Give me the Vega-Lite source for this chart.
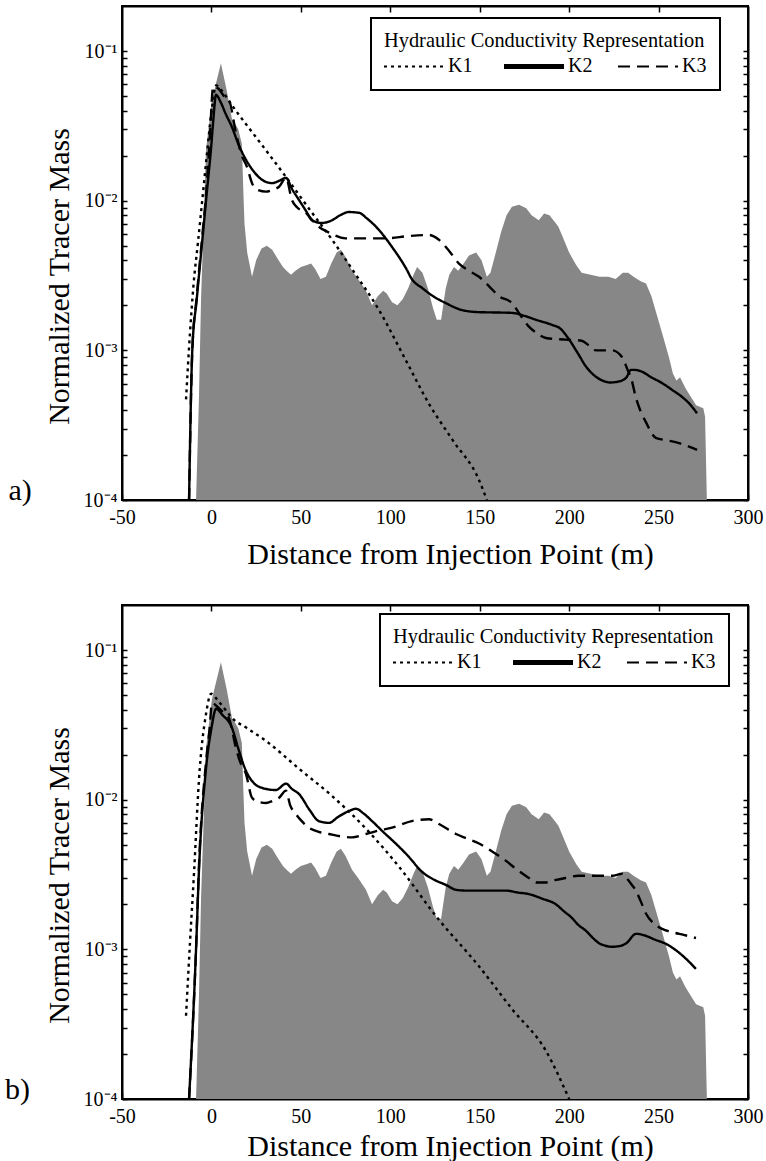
{
  "$schema": "https://vega.github.io/schema/vega-lite/v6.json",
  "background": "white",
  "padding": {"left": 4, "top": 4, "right": 2, "bottom": 0},
  "spacing": 33,
  "config": {
    "font": "Liberation Serif",
    "view": {"stroke": "black", "strokeWidth": 2},
    "axis": {
      "grid": false,
      "domainColor": "black",
      "domainWidth": 2,
      "tickColor": "black",
      "tickWidth": 1.5,
      "tickSize": -6,
      "labelFont": "Liberation Serif",
      "labelFontSize": 20,
      "labelColor": "black",
      "labelOverlap": false,
      "labelFlush": false,
      "titleFont": "Liberation Serif",
      "titleFontSize": 30,
      "titleFontWeight": "normal",
      "titleColor": "black"
    },
    "legend": {
      "titleFont": "Liberation Serif",
      "titleFontSize": 20.4,
      "titleFontWeight": "normal",
      "titleColor": "black",
      "titleLimit": 500,
      "labelFont": "Liberation Serif",
      "labelFontSize": 20,
      "labelColor": "black",
      "labelLimit": 100,
      "symbolType": "stroke",
      "symbolSize": 3600,
      "symbolStrokeColor": "black",
      "symbolStrokeWidth": 2
    }
  },
  "datasets": {
    "obs": [
      {"x": -8.6, "v": 0.0001}, {"x": -7, "v": 0.00047}, {"x": -5.8, "v": 0.0022}, {"x": -3, "v": 0.022}, {"x": 0.3, "v": 0.047}, {"x": 5.3, "v": 0.083}, {"x": 8.5, "v": 0.055}, {"x": 11.5, "v": 0.035}, {"x": 13, "v": 0.033}, {"x": 15, "v": 0.03}, {"x": 17, "v": 0.024}, {"x": 17.8, "v": 0.012}, {"x": 18.5, "v": 0.007}, {"x": 20, "v": 0.0045}, {"x": 22.7, "v": 0.0031}, {"x": 25, "v": 0.004}, {"x": 28, "v": 0.0048}, {"x": 31, "v": 0.005}, {"x": 34, "v": 0.0047}, {"x": 37, "v": 0.0041}, {"x": 40, "v": 0.0036}, {"x": 42, "v": 0.0034}, {"x": 44.5, "v": 0.0032}, {"x": 47, "v": 0.0034}, {"x": 50, "v": 0.0036}, {"x": 53, "v": 0.0037}, {"x": 55.7, "v": 0.0038}, {"x": 58, "v": 0.0035}, {"x": 61, "v": 0.003}, {"x": 64, "v": 0.0031}, {"x": 67, "v": 0.0038}, {"x": 70, "v": 0.0045}, {"x": 72.4, "v": 0.0047}, {"x": 75, "v": 0.0042}, {"x": 78.6, "v": 0.0034}, {"x": 82, "v": 0.003}, {"x": 86.4, "v": 0.0025}, {"x": 89.8, "v": 0.002}, {"x": 93, "v": 0.0023}, {"x": 96, "v": 0.0025}, {"x": 98, "v": 0.0024}, {"x": 101, "v": 0.0021}, {"x": 104, "v": 0.002}, {"x": 107, "v": 0.0022}, {"x": 110, "v": 0.0026}, {"x": 113, "v": 0.0032}, {"x": 115, "v": 0.0036}, {"x": 118, "v": 0.0033}, {"x": 121, "v": 0.0026}, {"x": 124, "v": 0.0019}, {"x": 126, "v": 0.0016}, {"x": 128.4, "v": 0.0016}, {"x": 131, "v": 0.0026}, {"x": 133, "v": 0.0032}, {"x": 135.6, "v": 0.0036}, {"x": 138, "v": 0.0034}, {"x": 141, "v": 0.0038}, {"x": 144, "v": 0.0043}, {"x": 148, "v": 0.0045}, {"x": 151, "v": 0.004}, {"x": 154, "v": 0.0031}, {"x": 156, "v": 0.0033}, {"x": 159, "v": 0.0045}, {"x": 162, "v": 0.0062}, {"x": 165, "v": 0.008}, {"x": 168, "v": 0.0091}, {"x": 172, "v": 0.0094}, {"x": 176, "v": 0.0089}, {"x": 179, "v": 0.008}, {"x": 183, "v": 0.0074}, {"x": 186, "v": 0.0082}, {"x": 189, "v": 0.008}, {"x": 192, "v": 0.0072}, {"x": 194, "v": 0.0067}, {"x": 197, "v": 0.0055}, {"x": 200, "v": 0.0045}, {"x": 204, "v": 0.0037}, {"x": 207, "v": 0.0033}, {"x": 212, "v": 0.0032}, {"x": 217, "v": 0.0031}, {"x": 222, "v": 0.0031}, {"x": 226, "v": 0.003}, {"x": 230, "v": 0.0033}, {"x": 233, "v": 0.0033}, {"x": 236, "v": 0.0031}, {"x": 240, "v": 0.0029}, {"x": 243, "v": 0.0028}, {"x": 246, "v": 0.0023}, {"x": 248.6, "v": 0.0018}, {"x": 252, "v": 0.0013}, {"x": 255.8, "v": 0.0009}, {"x": 258, "v": 0.0007}, {"x": 260, "v": 0.00063}, {"x": 262, "v": 0.00066}, {"x": 265, "v": 0.00056}, {"x": 268, "v": 0.00049}, {"x": 271, "v": 0.00043}, {"x": 273, "v": 0.00042}, {"x": 275, "v": 0.00041}, {"x": 276, "v": 0.00036}, {"x": 277, "v": 0.0001}
    ],
    "linesA": [
      {"s": "K1", "x": -14.2, "v": 0.00047}, {"s": "K1", "x": -12, "v": 0.0013}, {"s": "K1", "x": -10, "v": 0.00275}, {"s": "K1", "x": -7.5, "v": 0.0053}, {"s": "K1", "x": -5, "v": 0.0104}, {"s": "K1", "x": -2.5, "v": 0.0206}, {"s": "K1", "x": 0, "v": 0.039}, {"s": "K1", "x": 2.6, "v": 0.059}, {"s": "K1", "x": 6, "v": 0.054}, {"s": "K1", "x": 10, "v": 0.046}, {"s": "K1", "x": 15, "v": 0.038}, {"s": "K1", "x": 20, "v": 0.0317}, {"s": "K1", "x": 30, "v": 0.0221}, {"s": "K1", "x": 41.7, "v": 0.0144}, {"s": "K1", "x": 55, "v": 0.0087}, {"s": "K1", "x": 67.4, "v": 0.0055}, {"s": "K1", "x": 80, "v": 0.0033}, {"s": "K1", "x": 93.7, "v": 0.00186}, {"s": "K1", "x": 108, "v": 0.00089}, {"s": "K1", "x": 121.6, "v": 0.00044}, {"s": "K1", "x": 135, "v": 0.00025}, {"s": "K1", "x": 149.6, "v": 0.000136}, {"s": "K1", "x": 154, "v": 0.0001},
      {"s": "K2", "x": -12.5, "v": 0.0001}, {"s": "K2", "x": -10.7, "v": 0.001}, {"s": "K2", "x": -8.2, "v": 0.0022}, {"s": "K2", "x": -5, "v": 0.0056}, {"s": "K2", "x": -3, "v": 0.0101}, {"s": "K2", "x": 0, "v": 0.024}, {"s": "K2", "x": 1, "v": 0.034}, {"s": "K2", "x": 2.6, "v": 0.051}, {"s": "K2", "x": 5, "v": 0.046}, {"s": "K2", "x": 8, "v": 0.038}, {"s": "K2", "x": 11.5, "v": 0.031}, {"s": "K2", "x": 15, "v": 0.024}, {"s": "K2", "x": 19.3, "v": 0.0188}, {"s": "K2", "x": 24, "v": 0.0155}, {"s": "K2", "x": 28.3, "v": 0.0138}, {"s": "K2", "x": 33.9, "v": 0.0131}, {"s": "K2", "x": 38, "v": 0.0136}, {"s": "K2", "x": 41.7, "v": 0.0142}, {"s": "K2", "x": 45, "v": 0.012}, {"s": "K2", "x": 49, "v": 0.0101}, {"s": "K2", "x": 53, "v": 0.0085}, {"s": "K2", "x": 56.2, "v": 0.0074}, {"s": "K2", "x": 61.8, "v": 0.0071}, {"s": "K2", "x": 67.4, "v": 0.0074}, {"s": "K2", "x": 72, "v": 0.008}, {"s": "K2", "x": 76.9, "v": 0.0084}, {"s": "K2", "x": 82.5, "v": 0.0083}, {"s": "K2", "x": 87, "v": 0.0076}, {"s": "K2", "x": 92, "v": 0.0067}, {"s": "K2", "x": 97, "v": 0.0057}, {"s": "K2", "x": 101, "v": 0.0049}, {"s": "K2", "x": 104.9, "v": 0.0042}, {"s": "K2", "x": 109, "v": 0.0035}, {"s": "K2", "x": 112, "v": 0.003}, {"s": "K2", "x": 118, "v": 0.0026}, {"s": "K2", "x": 124, "v": 0.0023}, {"s": "K2", "x": 131, "v": 0.00207}, {"s": "K2", "x": 140, "v": 0.00186}, {"s": "K2", "x": 149.6, "v": 0.0018}, {"s": "K2", "x": 160, "v": 0.00179}, {"s": "K2", "x": 168, "v": 0.00178}, {"s": "K2", "x": 175, "v": 0.0017}, {"s": "K2", "x": 181.5, "v": 0.0016}, {"s": "K2", "x": 190.4, "v": 0.00148}, {"s": "K2", "x": 195, "v": 0.0014}, {"s": "K2", "x": 200, "v": 0.00118}, {"s": "K2", "x": 205, "v": 0.00095}, {"s": "K2", "x": 209.4, "v": 0.00078}, {"s": "K2", "x": 214, "v": 0.00068}, {"s": "K2", "x": 218.4, "v": 0.00063}, {"s": "K2", "x": 223, "v": 0.00061}, {"s": "K2", "x": 227.9, "v": 0.00062}, {"s": "K2", "x": 232, "v": 0.00066}, {"s": "K2", "x": 234.6, "v": 0.00074}, {"s": "K2", "x": 237, "v": 0.00074}, {"s": "K2", "x": 240.7, "v": 0.00072}, {"s": "K2", "x": 246, "v": 0.00066}, {"s": "K2", "x": 251.9, "v": 0.000605}, {"s": "K2", "x": 258, "v": 0.00054}, {"s": "K2", "x": 263, "v": 0.00049}, {"s": "K2", "x": 268, "v": 0.00043}, {"s": "K2", "x": 271.5, "v": 0.00038},
      {"s": "K3", "x": -12.5, "v": 0.0001}, {"s": "K3", "x": -10.7, "v": 0.001}, {"s": "K3", "x": -8.2, "v": 0.0023}, {"s": "K3", "x": -5, "v": 0.006}, {"s": "K3", "x": -3, "v": 0.011}, {"s": "K3", "x": -1, "v": 0.025}, {"s": "K3", "x": 1, "v": 0.058}, {"s": "K3", "x": 4, "v": 0.056}, {"s": "K3", "x": 7, "v": 0.05}, {"s": "K3", "x": 9.8, "v": 0.047}, {"s": "K3", "x": 13.7, "v": 0.0284}, {"s": "K3", "x": 17, "v": 0.02}, {"s": "K3", "x": 19.9, "v": 0.0168}, {"s": "K3", "x": 22.7, "v": 0.0131}, {"s": "K3", "x": 26, "v": 0.0118}, {"s": "K3", "x": 30.5, "v": 0.0115}, {"s": "K3", "x": 34, "v": 0.0118}, {"s": "K3", "x": 37.8, "v": 0.0124}, {"s": "K3", "x": 41.7, "v": 0.0142}, {"s": "K3", "x": 45, "v": 0.0101}, {"s": "K3", "x": 48, "v": 0.009}, {"s": "K3", "x": 52.9, "v": 0.0083}, {"s": "K3", "x": 56, "v": 0.0075}, {"s": "K3", "x": 60, "v": 0.0067}, {"s": "K3", "x": 66, "v": 0.0061}, {"s": "K3", "x": 75, "v": 0.0056}, {"s": "K3", "x": 86.4, "v": 0.0056}, {"s": "K3", "x": 97.6, "v": 0.0056}, {"s": "K3", "x": 110, "v": 0.0058}, {"s": "K3", "x": 121.6, "v": 0.0059}, {"s": "K3", "x": 127, "v": 0.0055}, {"s": "K3", "x": 133, "v": 0.0046}, {"s": "K3", "x": 138.4, "v": 0.0038}, {"s": "K3", "x": 144, "v": 0.0034}, {"s": "K3", "x": 149.6, "v": 0.0031}, {"s": "K3", "x": 155, "v": 0.0027}, {"s": "K3", "x": 160.8, "v": 0.0023}, {"s": "K3", "x": 168, "v": 0.00207}, {"s": "K3", "x": 173, "v": 0.0017}, {"s": "K3", "x": 177.5, "v": 0.00144}, {"s": "K3", "x": 182, "v": 0.0013}, {"s": "K3", "x": 187, "v": 0.00121}, {"s": "K3", "x": 198, "v": 0.00118}, {"s": "K3", "x": 207, "v": 0.00116}, {"s": "K3", "x": 211, "v": 0.00108}, {"s": "K3", "x": 215, "v": 0.001}, {"s": "K3", "x": 224, "v": 0.001}, {"s": "K3", "x": 229.6, "v": 0.0009}, {"s": "K3", "x": 232.5, "v": 0.00075}, {"s": "K3", "x": 235, "v": 0.00063}, {"s": "K3", "x": 237, "v": 0.0005}, {"s": "K3", "x": 239, "v": 0.00042}, {"s": "K3", "x": 243, "v": 0.00033}, {"s": "K3", "x": 248.5, "v": 0.00026}, {"s": "K3", "x": 255, "v": 0.00025}, {"s": "K3", "x": 261.4, "v": 0.00024}, {"s": "K3", "x": 266, "v": 0.00023}, {"s": "K3", "x": 271.5, "v": 0.000216}
    ],
    "linesB": [
      {"s": "K1", "x": -14.2, "v": 0.00036}, {"s": "K1", "x": -12, "v": 0.0011}, {"s": "K1", "x": -9.7, "v": 0.0033}, {"s": "K1", "x": -7, "v": 0.0134}, {"s": "K1", "x": -3, "v": 0.0375}, {"s": "K1", "x": -0.2, "v": 0.051}, {"s": "K1", "x": 3, "v": 0.047}, {"s": "K1", "x": 7, "v": 0.041}, {"s": "K1", "x": 11.5, "v": 0.0352}, {"s": "K1", "x": 20, "v": 0.03}, {"s": "K1", "x": 30.5, "v": 0.0247}, {"s": "K1", "x": 49, "v": 0.0161}, {"s": "K1", "x": 67.4, "v": 0.0106}, {"s": "K1", "x": 86.4, "v": 0.0064}, {"s": "K1", "x": 104.9, "v": 0.00356}, {"s": "K1", "x": 125.5, "v": 0.00167}, {"s": "K1", "x": 149.6, "v": 0.00077}, {"s": "K1", "x": 168, "v": 0.0004}, {"s": "K1", "x": 187, "v": 0.00021}, {"s": "K1", "x": 200, "v": 0.0001},
      {"s": "K2", "x": -12.5, "v": 0.0001}, {"s": "K2", "x": -8.6, "v": 0.001}, {"s": "K2", "x": -7, "v": 0.0033}, {"s": "K2", "x": -3, "v": 0.0163}, {"s": "K2", "x": 0, "v": 0.03}, {"s": "K2", "x": 2.6, "v": 0.0405}, {"s": "K2", "x": 6, "v": 0.037}, {"s": "K2", "x": 11.5, "v": 0.0302}, {"s": "K2", "x": 15, "v": 0.022}, {"s": "K2", "x": 19.3, "v": 0.0156}, {"s": "K2", "x": 24, "v": 0.0128}, {"s": "K2", "x": 28.3, "v": 0.012}, {"s": "K2", "x": 36, "v": 0.0116}, {"s": "K2", "x": 41.7, "v": 0.0128}, {"s": "K2", "x": 45, "v": 0.0118}, {"s": "K2", "x": 49, "v": 0.0109}, {"s": "K2", "x": 55, "v": 0.0085}, {"s": "K2", "x": 60, "v": 0.0072}, {"s": "K2", "x": 65.7, "v": 0.007}, {"s": "K2", "x": 71, "v": 0.0077}, {"s": "K2", "x": 76.9, "v": 0.0084}, {"s": "K2", "x": 80.8, "v": 0.0087}, {"s": "K2", "x": 85, "v": 0.0081}, {"s": "K2", "x": 89.8, "v": 0.0072}, {"s": "K2", "x": 96, "v": 0.0061}, {"s": "K2", "x": 103, "v": 0.0051}, {"s": "K2", "x": 110, "v": 0.0042}, {"s": "K2", "x": 117.7, "v": 0.0033}, {"s": "K2", "x": 125, "v": 0.0029}, {"s": "K2", "x": 131, "v": 0.0027}, {"s": "K2", "x": 136.7, "v": 0.0025}, {"s": "K2", "x": 142.3, "v": 0.00247}, {"s": "K2", "x": 150, "v": 0.00247}, {"s": "K2", "x": 157, "v": 0.00247}, {"s": "K2", "x": 164.7, "v": 0.00247}, {"s": "K2", "x": 171, "v": 0.0024}, {"s": "K2", "x": 177.5, "v": 0.00234}, {"s": "K2", "x": 185, "v": 0.00218}, {"s": "K2", "x": 192.6, "v": 0.002}, {"s": "K2", "x": 197, "v": 0.0018}, {"s": "K2", "x": 201.6, "v": 0.00162}, {"s": "K2", "x": 205, "v": 0.00146}, {"s": "K2", "x": 209.4, "v": 0.00133}, {"s": "K2", "x": 213, "v": 0.0012}, {"s": "K2", "x": 216.7, "v": 0.0011}, {"s": "K2", "x": 220, "v": 0.00106}, {"s": "K2", "x": 224, "v": 0.00104}, {"s": "K2", "x": 227.9, "v": 0.00105}, {"s": "K2", "x": 232, "v": 0.0011}, {"s": "K2", "x": 237.4, "v": 0.00127}, {"s": "K2", "x": 240, "v": 0.00126}, {"s": "K2", "x": 243, "v": 0.00123}, {"s": "K2", "x": 248, "v": 0.00116}, {"s": "K2", "x": 254, "v": 0.00109}, {"s": "K2", "x": 260, "v": 0.00098}, {"s": "K2", "x": 266, "v": 0.00085}, {"s": "K2", "x": 270.9, "v": 0.00074},
      {"s": "K3", "x": -12.5, "v": 0.0001}, {"s": "K3", "x": -8.6, "v": 0.001}, {"s": "K3", "x": -7, "v": 0.0035}, {"s": "K3", "x": -3, "v": 0.018}, {"s": "K3", "x": -1, "v": 0.03}, {"s": "K3", "x": 0.3, "v": 0.0443}, {"s": "K3", "x": 4, "v": 0.041}, {"s": "K3", "x": 7, "v": 0.038}, {"s": "K3", "x": 9.8, "v": 0.035}, {"s": "K3", "x": 13.7, "v": 0.0222}, {"s": "K3", "x": 16, "v": 0.018}, {"s": "K3", "x": 19.3, "v": 0.0149}, {"s": "K3", "x": 22.7, "v": 0.0103}, {"s": "K3", "x": 26, "v": 0.0097}, {"s": "K3", "x": 30.5, "v": 0.0095}, {"s": "K3", "x": 34, "v": 0.0098}, {"s": "K3", "x": 37.8, "v": 0.0103}, {"s": "K3", "x": 41.7, "v": 0.0115}, {"s": "K3", "x": 44, "v": 0.0092}, {"s": "K3", "x": 47.3, "v": 0.008}, {"s": "K3", "x": 50, "v": 0.0073}, {"s": "K3", "x": 54.5, "v": 0.0065}, {"s": "K3", "x": 60, "v": 0.0061}, {"s": "K3", "x": 65.7, "v": 0.0059}, {"s": "K3", "x": 72, "v": 0.0057}, {"s": "K3", "x": 78.6, "v": 0.0056}, {"s": "K3", "x": 86.4, "v": 0.0059}, {"s": "K3", "x": 93, "v": 0.0062}, {"s": "K3", "x": 101, "v": 0.0065}, {"s": "K3", "x": 112, "v": 0.0072}, {"s": "K3", "x": 121.6, "v": 0.0074}, {"s": "K3", "x": 128, "v": 0.0068}, {"s": "K3", "x": 136.7, "v": 0.0059}, {"s": "K3", "x": 143, "v": 0.0055}, {"s": "K3", "x": 149.6, "v": 0.0051}, {"s": "K3", "x": 157, "v": 0.0045}, {"s": "K3", "x": 164.7, "v": 0.0039}, {"s": "K3", "x": 171, "v": 0.0034}, {"s": "K3", "x": 177.5, "v": 0.003}, {"s": "K3", "x": 182, "v": 0.0028}, {"s": "K3", "x": 187, "v": 0.0028}, {"s": "K3", "x": 192, "v": 0.0029}, {"s": "K3", "x": 198, "v": 0.003}, {"s": "K3", "x": 205, "v": 0.0031}, {"s": "K3", "x": 212.8, "v": 0.0031}, {"s": "K3", "x": 218, "v": 0.0031}, {"s": "K3", "x": 224, "v": 0.0031}, {"s": "K3", "x": 229.6, "v": 0.0032}, {"s": "K3", "x": 232, "v": 0.003}, {"s": "K3", "x": 235, "v": 0.0027}, {"s": "K3", "x": 237.4, "v": 0.00246}, {"s": "K3", "x": 240, "v": 0.0021}, {"s": "K3", "x": 243, "v": 0.00173}, {"s": "K3", "x": 247, "v": 0.0015}, {"s": "K3", "x": 252, "v": 0.00137}, {"s": "K3", "x": 258, "v": 0.0013}, {"s": "K3", "x": 264, "v": 0.00125}, {"s": "K3", "x": 270.9, "v": 0.00119}
    ]
  },
  "vconcat": [
    {
      "width": 626,
      "height": 494,
      "title": {"text": "a)", "orient": "left", "anchor": "start", "frame": "group", "angle": 0, "align": "right", "baseline": "alphabetic", "offset": -11, "fontSize": 30, "font": "Liberation Serif", "fontWeight": "normal", "color": "black"},
      "layer": [
        {
          "data": {"name": "obs"},
          "mark": {"type": "area", "color": "#878787", "opacity": 1, "clip": true},
          "encoding": {
            "x": {"field": "x", "type": "quantitative", "scale": {"domain": [-50, 300], "nice": false},
              "axis": {"orient": "bottom", "values": [-50, 0, 50, 100, 150, 200, 250, 300], "labelExpr": "'' + datum.value", "labelFont": "Liberation Serif", "labelPadding": 13, "title": "Distance from Injection Point (m)", "titleX": 328, "titleY": 63, "titleBaseline": "alphabetic", "titleAlign": "center"}},
            "y": {"field": "v", "type": "quantitative", "scale": {"type": "log", "domain": [0.0001, 0.2], "nice": false},
              "axis": {"orient": "left", "values": [0.0001, 0.0002, 0.0003, 0.0004, 0.0005, 0.0006, 0.0007, 0.0008, 0.0009, 0.001, 0.002, 0.003, 0.004, 0.005, 0.006, 0.007, 0.008, 0.009, 0.01, 0.02, 0.03, 0.04, 0.05, 0.06, 0.07, 0.08, 0.09, 0.1], "tickSize": -5, "labelPadding": 10, "labelFont": "Liberation Serif", "labelExpr": "datum.value == 0.1 ? '10⁻¹' : datum.value == 0.01 ? '10⁻²' : datum.value == 0.001 ? '10⁻³' : datum.value == 0.0001 ? '10⁻⁴' : ''", "title": "Normalized Tracer Mass", "titleFontSize": 30, "titleX": -54, "titleY": 270, "titleAngle": 270, "titleBaseline": "alphabetic", "titleAlign": "center"}},
            "y2": {"datum": 0.0001}
          }
        },
        {
          "data": {"name": "linesA"},
          "mark": {"type": "line", "color": "black", "strokeWidth": 2.4, "clip": true, "interpolate": "monotone"},
          "encoding": {
            "x": {"field": "x", "type": "quantitative", "scale": {"domain": [-50, 300], "nice": false},
              "axis": {"orient": "top", "values": [0, 50, 100, 150, 200, 250], "labels": false, "title": null}},
            "y": {"field": "v", "type": "quantitative", "scale": {"type": "log", "domain": [0.0001, 0.2], "nice": false},
              "axis": {"orient": "right", "values": [0.0001, 0.0002, 0.0003, 0.0004, 0.0005, 0.0006, 0.0007, 0.0008, 0.0009, 0.001, 0.002, 0.003, 0.004, 0.005, 0.006, 0.007, 0.008, 0.009, 0.01, 0.02, 0.03, 0.04, 0.05, 0.06, 0.07, 0.08, 0.09, 0.1], "tickSize": -5, "labels": false, "title": null}},
            "strokeDash": {"field": "s", "type": "nominal",
              "scale": {"domain": ["K1", "K2", "K3"], "range": [[3, 4], [1, 0], [12, 7]]},
              "legend": {"title": "Hydraulic Conductivity Representation", "orient": "none", "legendX": 249, "legendY": 12, "direction": "horizontal", "titleAnchor": "start", "titlePadding": 5, "padding": 13, "strokeColor": "black", "fillColor": "white", "symbolOffset": 20, "labelOffset": 24, "columnPadding": 21,
                "encode": {"symbols": {"update": {"strokeWidth": {"signal": "datum.value === 'K2' ? 5 : 2"}}}, "legend": {"update": {"strokeWidth": {"value": 2}}}}}
            }
          }
        }
      ],
      "resolve": {"axis": {"x": "independent", "y": "independent"}}
    },
    {
      "width": 626,
      "height": 494,
      "title": {"text": "b)", "orient": "left", "anchor": "start", "frame": "group", "angle": 0, "align": "right", "baseline": "alphabetic", "offset": -11, "fontSize": 30, "font": "Liberation Serif", "fontWeight": "normal", "color": "black"},
      "layer": [
        {
          "data": {"name": "obs"},
          "mark": {"type": "area", "color": "#878787", "opacity": 1, "clip": true},
          "encoding": {
            "x": {"field": "x", "type": "quantitative", "scale": {"domain": [-50, 300], "nice": false},
              "axis": {"orient": "bottom", "values": [-50, 0, 50, 100, 150, 200, 250, 300], "labelExpr": "'' + datum.value", "labelFont": "Liberation Serif", "labelPadding": 13, "title": "Distance from Injection Point (m)", "titleX": 328, "titleY": 56, "titleBaseline": "alphabetic", "titleAlign": "center"}},
            "y": {"field": "v", "type": "quantitative", "scale": {"type": "log", "domain": [0.0001, 0.2], "nice": false},
              "axis": {"orient": "left", "values": [0.0001, 0.0002, 0.0003, 0.0004, 0.0005, 0.0006, 0.0007, 0.0008, 0.0009, 0.001, 0.002, 0.003, 0.004, 0.005, 0.006, 0.007, 0.008, 0.009, 0.01, 0.02, 0.03, 0.04, 0.05, 0.06, 0.07, 0.08, 0.09, 0.1], "tickSize": -5, "labelPadding": 10, "labelFont": "Liberation Serif", "labelExpr": "datum.value == 0.1 ? '10⁻¹' : datum.value == 0.01 ? '10⁻²' : datum.value == 0.001 ? '10⁻³' : datum.value == 0.0001 ? '10⁻⁴' : ''", "title": "Normalized Tracer Mass", "titleFontSize": 30, "titleX": -54, "titleY": 270, "titleAngle": 270, "titleBaseline": "alphabetic", "titleAlign": "center"}},
            "y2": {"datum": 0.0001}
          }
        },
        {
          "data": {"name": "linesB"},
          "mark": {"type": "line", "color": "black", "strokeWidth": 2.4, "clip": true, "interpolate": "monotone"},
          "encoding": {
            "x": {"field": "x", "type": "quantitative", "scale": {"domain": [-50, 300], "nice": false},
              "axis": {"orient": "top", "values": [0, 50, 100, 150, 200, 250], "labels": false, "title": null}},
            "y": {"field": "v", "type": "quantitative", "scale": {"type": "log", "domain": [0.0001, 0.2], "nice": false},
              "axis": {"orient": "right", "values": [0.0001, 0.0002, 0.0003, 0.0004, 0.0005, 0.0006, 0.0007, 0.0008, 0.0009, 0.001, 0.002, 0.003, 0.004, 0.005, 0.006, 0.007, 0.008, 0.009, 0.01, 0.02, 0.03, 0.04, 0.05, 0.06, 0.07, 0.08, 0.09, 0.1], "tickSize": -5, "labels": false, "title": null}},
            "strokeDash": {"field": "s", "type": "nominal",
              "scale": {"domain": ["K1", "K2", "K3"], "range": [[3, 4], [1, 0], [12, 7]]},
              "legend": {"title": "Hydraulic Conductivity Representation", "orient": "none", "legendX": 258, "legendY": 9, "direction": "horizontal", "titleAnchor": "start", "titlePadding": 5, "padding": 13, "strokeColor": "black", "fillColor": "white", "symbolOffset": 20, "labelOffset": 24, "columnPadding": 21,
                "encode": {"symbols": {"update": {"strokeWidth": {"signal": "datum.value === 'K2' ? 5 : 2"}}}, "legend": {"update": {"strokeWidth": {"value": 2}}}}}
            }
          }
        }
      ],
      "resolve": {"axis": {"x": "independent", "y": "independent"}}
    }
  ],
  "resolve": {"legend": {"strokeDash": "independent"}, "scale": {"strokeDash": "independent"}}
}
